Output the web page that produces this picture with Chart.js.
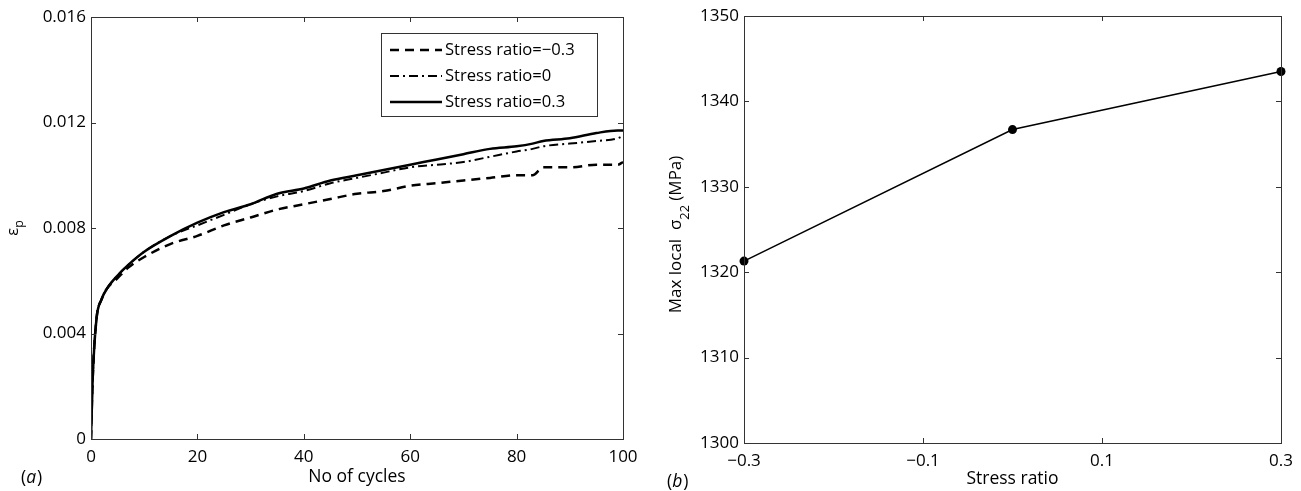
<!DOCTYPE html>
<html>
<head>
<meta charset="utf-8">
<script src="https://cdn.jsdelivr.net/npm/chart.js@4.4.1/dist/chart.umd.min.js"></script>
<style>
  body { margin: 0; background: #fff; }
  #wrap { position: relative; width: 1301px; height: 491px; }
  .pane { position: absolute; top: 0; }
</style>
</head>
<body>
<div id="wrap">
  <canvas id="strainChart" class="pane" style="left:0" width="640" height="491"></canvas>
  <canvas id="stressChart" class="pane" style="left:640px" width="661" height="491"></canvas>
</div>
<script>
// ---------------- data ----------------

// (a) plastic strain vs number of cycles
const cycles = [0, 0.3, 1, 2, 3, 5, 7, 10, 15, 20, 25, 30, 35, 40, 45, 50, 55, 60, 65, 70, 75, 80, 83, 85, 90, 95, 99, 100];
const strainRm03 = [0, 0.0022, 0.0045, 0.0053, 0.0057, 0.0061, 0.0065, 0.0069, 0.0074, 0.0077, 0.0081, 0.0084, 0.0087, 0.0089, 0.0091, 0.0093, 0.0094, 0.0096, 0.0097, 0.0098, 0.0099, 0.0100, 0.0100, 0.0103, 0.0103, 0.0104, 0.0104, 0.0105];
const strainR0 = [0, 0.0022, 0.0045, 0.0053, 0.0057, 0.0062, 0.0066, 0.0071, 0.0077, 0.0081, 0.0085, 0.0089, 0.0092, 0.0094, 0.0097, 0.0099, 0.0101, 0.0103, 0.0104, 0.0105, 0.0107, 0.0109, 0.0110, 0.0111, 0.0112, 0.0113, 0.0114, 0.0115];
const strainR03 = [0, 0.0022, 0.0045, 0.0053, 0.0057, 0.0062, 0.0066, 0.0071, 0.0077, 0.0082, 0.0086, 0.0089, 0.0093, 0.0095, 0.0098, 0.0100, 0.0102, 0.0104, 0.0106, 0.0108, 0.0110, 0.0111, 0.0112, 0.0113, 0.0114, 0.0116, 0.0117, 0.0117];
const cycleTicks = [0, 20, 40, 60, 80, 100];
const strainTicks = [0, 0.004, 0.008, 0.012, 0.016];

// (b) max local sigma22 vs stress ratio
const stressRatios = [-0.3, 0, 0.3];
const maxSigma22 = [1321.3, 1336.7, 1343.5];
const ratioTicks = [-0.3, -0.1, 0.1, 0.3];
const sigmaTicks = [1300, 1310, 1320, 1330, 1340, 1350];

// ---------------- helpers ----------------
const FONT = '"Open Sans", "DejaVu Sans", sans-serif';
const AXIS = '#333';
Chart.defaults.font.family = FONT;
Chart.defaults.color = '#000';

const pts = (xs, ys) => xs.map((x, i) => ({ x: x, y: ys[i] }));
const fmt = v => String(v).replace('-', '\u2212');

// 축 크기 고정 (라벨 때문에 plot 영역이 줄어들지 않게 padding 0)
const fixX = h => s => { s.height = h; s.paddingLeft = 0; s.paddingRight = 0; };
const fixY = w => s => { s.width = w; s.paddingTop = 0; s.paddingBottom = 0; };

function axis(min, max, list, fit, title, titlePad) {
  return {
    type: 'linear', min: min, max: max,
    afterBuildTicks: s => { s.ticks = list.map(v => ({ value: v })); },
    afterFit: fit,
    grid: { display: false, drawTicks: false },
    border: { display: true, color: AXIS, width: 1 },
    ticks: { callback: fmt, font: { size: 17 }, padding: title ? 8 : 5, maxRotation: 0, autoSkip: false },
    title: title ? { display: true, text: title, font: { size: 17.5 }, padding: { top: 0, bottom: titlePad } } : { display: false }
  };
}

// matlab 스타일 박스 + 안쪽 눈금 + 세로축 제목(아래첨자) + 패널 라벨
const frame = {
  id: 'frame',
  afterDraw(chart, args, o) {
    const { ctx, chartArea: a, scales: { x, y } } = chart;
    ctx.save();
    ctx.strokeStyle = AXIS;
    ctx.lineWidth = 1;
    ctx.strokeRect(Math.round(a.left) + 0.5, Math.round(a.top) + 0.5, Math.round(a.right - a.left), Math.round(a.bottom - a.top));
    ctx.beginPath();
    x.ticks.forEach(t => {
      const px = Math.round(x.getPixelForValue(t.value)) + 0.5;
      ctx.moveTo(px, a.bottom); ctx.lineTo(px, a.bottom - 5);
      ctx.moveTo(px, a.top); ctx.lineTo(px, a.top + 5);
    });
    y.ticks.forEach(t => {
      const py = Math.round(y.getPixelForValue(t.value)) + 0.5;
      ctx.moveTo(a.left, py); ctx.lineTo(a.left + 5, py);
      ctx.moveTo(a.right, py); ctx.lineTo(a.right - 5, py);
    });
    ctx.stroke();

    // 세로축 제목
    const yt = o.yTitle;
    ctx.fillStyle = '#000';
    ctx.translate(yt.x, (a.top + a.bottom) / 2 + (yt.dy || 0));
    ctx.rotate(-Math.PI / 2);
    ctx.textBaseline = 'alphabetic';
    let w = 0;
    yt.parts.forEach(p => {
      ctx.font = (p.sub ? yt.size * 0.75 : yt.size) + 'px ' + FONT;
      w += ctx.measureText(p.t).width;
    });
    let cx = -w / 2;
    yt.parts.forEach(p => {
      ctx.font = (p.sub ? yt.size * 0.75 : yt.size) + 'px ' + FONT;
      ctx.fillText(p.t, cx, p.sub ? yt.subDrop : 0);
      cx += ctx.measureText(p.t).width;
    });
    ctx.restore();

    // (a), (b)
    ctx.save();
    ctx.fillStyle = '#000';
    ctx.textBaseline = 'alphabetic';
    let lx = o.panel.x;
    [['(', ''], [o.panel.letter, 'italic '], [')', '']].forEach(([t, st]) => {
      ctx.font = st + '17.5px ' + FONT;
      ctx.fillText(t, lx, o.panel.y);
      lx += ctx.measureText(t).width + (st ? 1 : 0);
    });
    ctx.restore();
  }
};

// 그래프 안쪽 범례 상자
const boxLegend = {
  id: 'boxLegend',
  afterDraw(chart, args, o) {
    if (!o.show) return;
    const ctx = chart.ctx;
    ctx.save();
    ctx.fillStyle = '#fff';
    ctx.fillRect(o.x, o.y, o.w, o.h);
    ctx.strokeStyle = AXIS;
    ctx.lineWidth = 1;
    ctx.strokeRect(o.x + 0.5, o.y + 0.5, o.w, o.h);
    ctx.font = '16.6px ' + FONT;
    ctx.textBaseline = 'middle';
    chart.data.datasets.forEach((ds, i) => {
      const cy = o.y + 17 + i * 26;
      ctx.strokeStyle = ds.borderColor;
      ctx.lineWidth = ds.borderWidth;
      ctx.setLineDash(ds.borderDash || []);
      ctx.beginPath();
      ctx.moveTo(o.x + 9, cy); ctx.lineTo(o.x + 61, cy);
      ctx.stroke();
      ctx.fillStyle = '#000';
      ctx.fillText(ds.label, o.x + 64, cy);
    });
    ctx.restore();
  }
};

// ---------------- (a) ----------------
new Chart(document.getElementById('strainChart'), {
  type: 'line',
  data: {
    datasets: [
      { label: 'Stress ratio=\u22120.3', data: pts(cycles, strainRm03), borderColor: '#000', borderWidth: 2.5, borderDash: [9, 6] },
      { label: 'Stress ratio=0', data: pts(cycles, strainR0), borderColor: '#000', borderWidth: 2, borderDash: [9, 4, 2, 4] },
      { label: 'Stress ratio=0.3', data: pts(cycles, strainR03), borderColor: '#000', borderWidth: 2.5 }
    ]
  },
  options: {
    responsive: false,
    animation: false,
    layout: { padding: { top: 17, right: 17, left: 0, bottom: 0 } },
    elements: { point: { radius: 0 }, line: { cubicInterpolationMode: 'monotone' } },
    plugins: {
      legend: { display: false },
      tooltip: { enabled: false },
      boxLegend: { show: true, x: 381, y: 33, w: 216, h: 83 },
      frame: {
        yTitle: { x: 18, size: 16.5, subDrop: 5, parts: [{ t: '\u03b5' }, { t: 'p', sub: true }] },
        panel: { x: 21, y: 483, letter: 'a' }
      }
    },
    scales: {
      x: axis(0, 100, cycleTicks, fixX(52), 'No of cycles', 3),
      y: axis(0, 0.016, strainTicks, fixY(91))
    }
  },
  plugins: [boxLegend, frame]
});

// ---------------- (b) ----------------
new Chart(document.getElementById('stressChart'), {
  type: 'line',
  data: {
    datasets: [{
      label: 'Max local sigma22',
      data: pts(stressRatios, maxSigma22),
      borderColor: '#000', borderWidth: 1.5,
      pointRadius: 4.5, pointBackgroundColor: '#000', pointBorderWidth: 0,
      clip: false
    }]
  },
  options: {
    responsive: false,
    animation: false,
    layout: { padding: { top: 16, right: 20, left: 0, bottom: 0 } },
    plugins: {
      legend: { display: false },
      tooltip: { enabled: false },
      boxLegend: { show: false },
      frame: {
        yTitle: { x: 41, size: 17, subDrop: 8, dy: 5, parts: [{ t: 'Max local  \u03c3' }, { t: '22', sub: true }, { t: ' (MPa)' }] },
        panel: { x: 27, y: 487, letter: 'b' }
      }
    },
    scales: {
      x: axis(-0.3, 0.3, ratioTicks, fixX(48), 'Stress ratio', 1),
      y: axis(1300, 1350, sigmaTicks, fixY(104))
    }
  },
  plugins: [boxLegend, frame]
});
</script>
</body>
</html>
